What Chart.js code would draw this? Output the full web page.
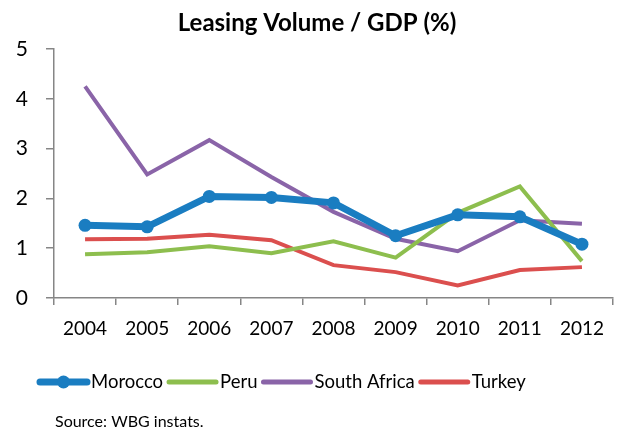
<!DOCTYPE html>
<html>
<head>
<meta charset="utf-8">
<script src="https://cdn.jsdelivr.net/npm/chart.js@4"></script>
<style>
  body { margin: 0; background: #fff; }
  #wrap { width: 623px; height: 430px; }
</style>
</head>
<body>
<div id="wrap"><canvas id="myChart" width="623" height="430"></canvas></div>
<script>
const years = ['2004', '2005', '2006', '2007', '2008', '2009', '2010', '2011', '2012'];
const morocco = [1.46, 1.43, 2.04, 2.02, 1.91, 1.25, 1.67, 1.63, 1.08];
const peru = [0.88, 0.92, 1.04, 0.90, 1.14, 0.81, 1.71, 2.24, 0.74];
const southAfrica = [4.25, 2.48, 3.17, 2.43, 1.73, 1.19, 0.94, 1.56, 1.49];
const turkey = [1.18, 1.19, 1.27, 1.16, 0.66, 0.52, 0.25, 0.56, 0.62];
const yTicks = [0, 1, 2, 3, 4, 5];

const FONT = 'Lato, "Open Sans", sans-serif';
const axisGray = '#868686';

const ctx = document.getElementById('myChart').getContext('2d');

// title, legend and source note drawn by hand
const extras = {
  id: 'extras',
  afterDraw(chart) {
    const c = chart.ctx;
    c.save();
    c.fillStyle = '#000';
    c.textBaseline = 'middle';
    c.font = 'bold 24px ' + FONT;
    c.textAlign = 'center';
    c.fillText('Leasing Volume / GDP (%)', 317, 23);

    c.textAlign = 'left';
    c.font = '18.5px ' + FONT;
    const legendY = 382;
    let x = 40;
    chart.data.datasets.forEach(function(ds) {
      c.strokeStyle = ds.borderColor;
      c.lineWidth = ds.borderWidth > 5 ? 7 : 5;
      c.lineCap = 'round';
      c.beginPath();
      c.moveTo(x, legendY);
      c.lineTo(x + 47, legendY);
      c.stroke();
      if (ds.pointRadius > 0) {
        c.fillStyle = ds.borderColor;
        c.beginPath();
        c.arc(x + 23.5, legendY, 6.5, 0, Math.PI * 2);
        c.fill();
      }
      c.fillStyle = '#000';
      c.fillText(ds.label, x + 51, legendY);
      x += 51 + c.measureText(ds.label).width + 6;
    });

    c.font = '16px ' + FONT;
    c.fillText('Source: WBG instats.', 55, 422);
    c.restore();
  }
};

new Chart(ctx, {
  type: 'line',
  data: {
    labels: years,
    datasets: [
      { label: 'Morocco', data: morocco, borderColor: '#1A7DC1', backgroundColor: '#1A7DC1',
        borderWidth: 7, pointRadius: 6.5, pointBorderWidth: 0, tension: 0 },
      { label: 'Peru', data: peru, borderColor: '#8DBE4E', backgroundColor: '#8DBE4E',
        borderWidth: 4, pointRadius: 0, tension: 0 },
      { label: 'South Africa', data: southAfrica, borderColor: '#8A64A8', backgroundColor: '#8A64A8',
        borderWidth: 4, pointRadius: 0, tension: 0 },
      { label: 'Turkey', data: turkey, borderColor: '#DB4F4E', backgroundColor: '#DB4F4E',
        borderWidth: 4, pointRadius: 0, tension: 0 }
    ]
  },
  options: {
    responsive: false,
    animation: false,
    layout: { padding: { top: 49, right: 10, bottom: 92, left: 0 } },
    plugins: {
      legend: { display: false },
      title: { display: false },
      tooltip: { enabled: false }
    },
    scales: {
      x: {
        offset: true,
        afterFit: function(scale) { scale.height = 40; },
        grid: { display: true, offset: true, drawOnChartArea: false, tickLength: 7, color: axisGray, lineWidth: 1.5 },
        border: { color: axisGray, width: 1.5 },
        ticks: { color: '#000', font: { family: FONT, size: 19 }, padding: 12, maxRotation: 0 }
      },
      y: {
        min: 0,
        max: 5,
        afterFit: function(scale) { scale.width = 54; },
        afterBuildTicks: function(scale) { scale.ticks = yTicks.map(v => ({ value: v })); },
        grid: { display: true, drawOnChartArea: false, tickLength: 8, color: axisGray, lineWidth: 1.5 },
        border: { color: axisGray, width: 1.5 },
        ticks: { color: '#000', font: { family: FONT, size: 21 }, padding: 18 }
      }
    }
  },
  plugins: [extras]
});
</script>
</body>
</html>
